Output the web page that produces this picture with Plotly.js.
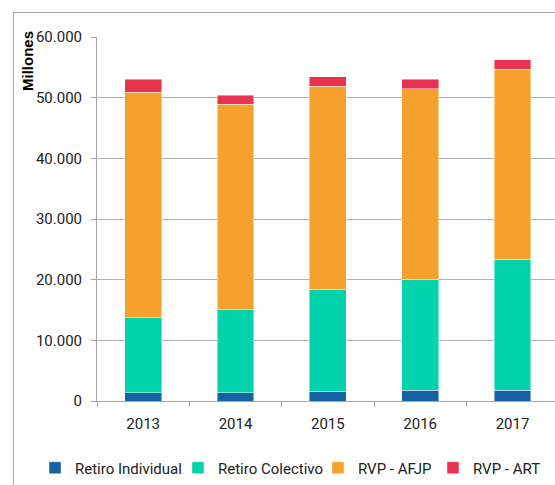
<!DOCTYPE html>
<html>
<head>
<meta charset="utf-8">
<script src="https://cdn.plot.ly/plotly-3.0.1.min.js"></script>
<style>
  html, body { margin: 0; padding: 0; background: #fff; }
  #wrap { position: relative; width: 555px; height: 485px; overflow: hidden; }
  #frame { position: absolute; left: 13px; top: 12px; width: 600px; height: 600px;
           border-left: 1px solid #a6a6a6; border-top: 1px solid #a6a6a6; pointer-events: none; }
  #chart { position: absolute; left: 0; top: 0; width: 555px; height: 485px; }
</style>
</head>
<body>
<div id="wrap">
  <div id="chart"></div>
  <div id="frame"></div>
</div>
<script>
const years = ['2013', '2014', '2015', '2016', '2017'];
const retiroIndividual = [1370, 1370, 1600, 1810, 1810];
const retiroColectivo  = [12360, 13680, 16860, 18250, 21590];
const rvpAfjp          = [37200, 33850, 33410, 31370, 31270];
const rvpArt           = [2100, 1540, 1590, 1590, 1540];

const seriesNames  = ['Retiro Individual', 'Retiro Colectivo', 'RVP - AFJP', 'RVP - ART'];
const seriesColors = ['#1461a3', '#00d3ab', '#f5a12b', '#e8324f'];
const seriesValues = [retiroIndividual, retiroColectivo, rvpAfjp, rvpArt];
const legendWidths = [98, 95, 70, 64];

const font = 'Roboto, "Noto Sans", sans-serif';

const traces = seriesValues.map((vals, i) => ({
  type: 'bar',
  x: years,
  y: vals,
  name: seriesNames[i],
  marker: { color: seriesColors[i], line: { color: 'rgba(255,255,255,0.6)', width: 0.75 } },
  legendwidth: legendWidths[i],
  hoverinfo: 'x+y+name'
}));

const plotW = 555 - 97;
const plotH = 485 - 37 - 84;

const layout = {
  width: 555,
  height: 485,
  margin: { l: 97, r: 0, t: 37, b: 84, pad: 0 },
  barmode: 'stack',
  bargap: 0.6,
  separators: ',.',
  paper_bgcolor: 'rgba(0,0,0,0)',
  plot_bgcolor: '#fff',
  font: { family: font, size: 15, color: '#222' },
  showlegend: true,
  legend: {
    orientation: 'h',
    x: (35 - 97) / plotW,
    xanchor: 'left',
    y: -(468 - 401) / plotH,
    yanchor: 'middle',
    traceorder: 'normal',
    font: { family: font, size: 15, color: '#222' },
    itemwidth: 30,
    bgcolor: 'rgba(0,0,0,0)'
  },
  xaxis: {
    type: 'category',
    range: [-0.5, 4.46],
    tickson: 'boundaries',
    ticks: 'outside',
    ticklen: 5,
    tickcolor: '#a6a6a6',
    showline: true,
    linecolor: '#a6a6a6',
    linewidth: 1,
    showgrid: false,
    automargin: false,
    ticklabelstandoff: 9,
    tickfont: { family: font, size: 15, color: '#222' },
    fixedrange: true
  },
  yaxis: {
    range: [0, 60000],
    dtick: 10000,
    tickformat: ',d',
    ticks: 'outside',
    ticklen: 5,
    tickcolor: '#a6a6a6',
    showline: true,
    linecolor: '#a6a6a6',
    linewidth: 1,
    showgrid: true,
    gridcolor: '#b0b0b0',
    gridwidth: 1,
    zeroline: false,
    automargin: false,
    ticklabelstandoff: 6,
    tickfont: { family: font, size: 15, color: '#222' },
    fixedrange: true
  },
  annotations: [{
    text: '<b>Millones</b>',
    xref: 'paper', yref: 'paper',
    x: (27 - 97) / plotW, y: (401 - 61) / plotH,
    xanchor: 'center', yanchor: 'middle',
    textangle: -90,
    showarrow: false,
    font: { family: '"Liberation Sans", Arial, sans-serif', size: 15, color: '#000' }
  }]
};

Plotly.newPlot('chart', traces, layout, { displayModeBar: false, staticPlot: true });
</script>
</body>
</html>
